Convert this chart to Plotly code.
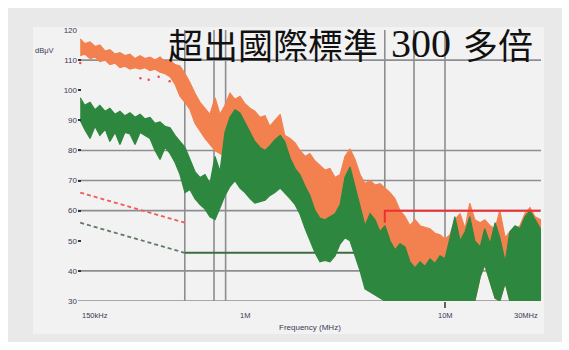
import math
import plotly.graph_objects as go

# Conducted-emission scan: frequency grid (MHz) and levels (dBuV)
freq_mhz = [0.150, 0.158, 0.168, 0.178, 0.188, 0.200, 0.211, 0.224, 0.237, 0.251,
            0.266, 0.282, 0.299, 0.316, 0.335, 0.355, 0.376, 0.398, 0.422, 0.447,
            0.473, 0.501, 0.531, 0.562, 0.596, 0.631, 0.668, 0.708, 0.750, 0.794,
            0.841, 0.891, 0.944, 1.00, 1.06, 1.12, 1.19, 1.26, 1.33, 1.41,
            1.50, 1.58, 1.68, 1.78, 1.88, 2.00, 2.11, 2.24, 2.37, 2.51,
            2.66, 2.82, 2.99, 3.16, 3.35, 3.55, 3.76, 3.98, 4.22, 4.47,
            4.73, 5.01, 5.31, 5.62, 5.96, 6.31, 6.68, 7.08, 7.50, 7.94,
            8.41, 8.91, 9.44, 10.0, 10.6, 11.2, 11.9, 12.6, 13.3, 14.1,
            15.0, 15.8, 16.8, 17.8, 18.8, 20.0, 21.1, 22.4, 23.7, 25.1,
            26.6, 28.2, 30.0]

# Peak detector trace: upper / lower envelope
peak_hi = [117, 115.5, 116, 114.5, 115, 113, 113.5, 112, 112.5, 111.5,
           112, 110.5, 111.5, 110.5, 111, 110, 111, 109.5, 110, 108.5,
           108, 105.5, 102.5, 99, 96, 94, 92, 97.5, 92, 95,
           99, 97, 98, 95.5, 94, 93, 91, 91.5, 88, 90,
           92, 85, 84, 82.5, 80, 78, 79, 76.5, 75, 73.5,
           74, 71, 72, 78, 80.5, 77, 72, 69, 70, 68.5,
           69, 67.5, 66, 64, 60, 58, 55, 57, 55, 54.5,
           54, 52.5, 52, 50.5, 52, 57, 59, 54, 62.5, 57,
           56, 57, 55, 54, 60, 51, 53, 54, 55, 59,
           61, 58, 57]
peak_lo = [111.5, 112, 110.5, 111, 109.5, 110, 108.5, 109, 107.5, 108,
           107, 107.5, 107, 107.5, 106.5, 107, 106, 105.5, 104.5, 102,
           98, 96, 93.5, 89, 86.5, 84, 82, 80, 79, 78,
           76, 76, 75, 75, 75, 74, 73.5, 73, 72.5, 72,
           72.5, 72, 71, 70, 68, 64, 62, 60, 58, 57,
           56, 56, 57, 60, 62, 60, 56, 54, 52, 50,
           48, 47, 45, 30, 30, 30, 30, 30, 30, 30,
           30, 30, 30, 30, 30, 30, 30, 30, 30, 30,
           38, 42, 36, 31, 30, 36, 30, 30, 30, 30,
           30, 30, 30]

# Average detector trace: upper / lower envelope
avg_hi = [97.5, 95, 96, 93.5, 95, 93, 94, 92, 93, 91.5,
          92.5, 91, 92, 90.5, 91, 89, 89.5, 88, 87.5, 85,
          83, 81, 77, 73, 71, 72, 69, 78, 73, 86,
          91, 93.5, 92.5, 89, 86, 83, 81, 80, 81.5, 83.5,
          85, 83, 77.5, 74, 72, 68, 65, 60, 57.5, 57,
          58, 59, 62, 71, 74.5, 68, 61, 55, 59, 57,
          53, 55, 50, 47, 49, 48, 43, 41, 43, 41.5,
          44, 42.5, 45, 44, 51, 58, 50, 53, 58, 50,
          48, 54, 49, 56, 51, 43, 53, 55, 54, 58,
          60, 57, 54]
avg_lo = [90, 87, 84, 88, 85, 87, 83, 86, 82, 86,
          85.5, 82, 86, 85, 84, 80, 77, 81, 79, 76,
          72, 66, 67, 64, 62, 60.5, 58, 57, 61, 65,
          68, 70, 67.5, 66, 64, 62.5, 63, 63.5, 65, 66,
          67.5, 66, 64, 62, 59, 54, 50, 46, 43, 43.5,
          43, 45, 49, 51, 50, 45, 40, 34, 33, 32,
          31, 30, 30, 30, 30, 30, 30, 30, 30, 30,
          30, 30, 30, 30, 30, 30, 30, 30, 30, 30,
          38, 42, 36, 31, 30, 36, 30, 30, 30, 30,
          30, 30, 30]

# Stray quasi-peak readings
stray_f = [0.150, 0.300, 0.330, 0.370, 0.420]
stray_db = [109, 104, 103.5, 104.5, 103]

# Limit lines (MHz, dBuV)
qp_slope_f = [0.15, 0.5]
qp_slope_db = [66, 56]
av_slope_f = [0.15, 0.5]
av_slope_db = [56, 46]
av_flat_f = [0.5, 5.0]
av_flat_db = [46, 46]
qp_high_f = [5.0, 5.0, 30.0]
qp_high_db = [56, 60, 60]

# Grid
h_grid_db = [110, 80, 70, 60, 40, 30]
v_grid_mhz = [0.5, 0.7, 0.8, 5.0, 7.0, 10.0]

y_tick_vals = [120, 110, 100, 90, 80, 70, 60, 50, 40, 30]
x_tick_mhz = [0.15, 1.0, 10.0, 30.0]
x_tick_text = ["150kHz", "1M", "10M", "30MHz"]
x_tick_anchor = ["left", "center", "center", "right"]

# Headline, split into runs so each run can be placed on its own
title_runs = ["超出國際標準", "300", "多倍"]

W, H = 569, 350
ML, MR, MT, MB = 78, 26, 30, 49
LOG_LO, LOG_HI = -0.835, 1.49
Y_LO, Y_HI = 30, 120
PW, PH = W - ML - MR, H - MT - MB


def px_x(px):
    return (px - ML) / PW


def px_y(py):
    return (H - MB - py) / PH


def f_paper(f):
    return (math.log10(f) - LOG_LO) / (LOG_HI - LOG_LO)


fig = go.Figure()

grid_col = "#8e8e92"
for db in h_grid_db:
    fig.add_trace(go.Scatter(x=[10 ** LOG_LO, 30.2], y=[db, db], mode="lines",
                             line=dict(color=grid_col, width=1.6),
                             hoverinfo="skip", showlegend=False))
for f in v_grid_mhz:
    fig.add_trace(go.Scatter(x=[f, f], y=[Y_LO, Y_HI + 1], mode="lines",
                             line=dict(color=grid_col, width=1.6),
                             hoverinfo="skip", showlegend=False))

fig.add_trace(go.Scatter(x=av_flat_f, y=av_flat_db, mode="lines",
                         line=dict(color="#3b6e3c", width=2),
                         showlegend=False, hoverinfo="skip"))

orange = "#f3814f"
green = "#2e873e"
fig.add_trace(go.Scatter(x=freq_mhz + freq_mhz[::-1], y=peak_hi + peak_lo[::-1],
                         mode="lines", fill="toself", fillcolor=orange,
                         line=dict(color=orange, width=1.2), showlegend=False,
                         hoverinfo="skip"))
fig.add_trace(go.Scatter(x=freq_mhz + freq_mhz[::-1], y=avg_hi + avg_lo[::-1],
                         mode="lines", fill="toself", fillcolor=green,
                         line=dict(color=green, width=1.2), showlegend=False,
                         hoverinfo="skip"))
fig.add_trace(go.Scatter(x=stray_f, y=stray_db, mode="markers",
                         marker=dict(color="#f04a5a", size=2.5),
                         showlegend=False, hoverinfo="skip"))

fig.add_trace(go.Scatter(x=qp_slope_f, y=qp_slope_db, mode="lines",
                         line=dict(color="#f05a5a", width=1.8, dash="4px,3px"),
                         showlegend=False, hoverinfo="skip"))
fig.add_trace(go.Scatter(x=av_slope_f, y=av_slope_db, mode="lines",
                         line=dict(color="#5f7a62", width=1.8, dash="4px,3px"),
                         showlegend=False, hoverinfo="skip"))
fig.add_trace(go.Scatter(x=qp_high_f, y=qp_high_db, mode="lines",
                         line=dict(color="#f02f35", width=2),
                         showlegend=False, hoverinfo="skip"))

# panel background: textured frame + plain inner area
shapes = [
    dict(type="rect", xref="paper", yref="paper", layer="below",
         x0=px_x(8), x1=px_x(562), y0=px_y(342), y1=px_y(8),
         fillcolor="#e9e9e9", line=dict(width=0)),
    dict(type="rect", xref="paper", yref="paper", layer="below",
         x0=px_x(33), x1=px_x(544), y0=px_y(334), y1=px_y(27),
         fillcolor="#f2f2f2", line=dict(width=0)),
    dict(type="line", xref="paper", yref="paper",
         x0=f_paper(10.0), x1=f_paper(10.0), y0=px_y(302), y1=px_y(308),
         line=dict(color="#333333", width=1.5)),
]

tick_font = dict(family="Liberation Sans", size=7.5, color="#3a3a55")
annotations = []
for f, t, a in zip(x_tick_mhz, x_tick_text, x_tick_anchor):
    annotations.append(dict(x=f_paper(f), y=px_y(315), xref="paper", yref="paper",
                            text=t, showarrow=False, xanchor=a, yanchor="middle",
                            font=tick_font))
annotations.append(dict(x=px_x(310), y=px_y(327), xref="paper", yref="paper",
                        text="Frequency (MHz)", showarrow=False,
                        xanchor="center", yanchor="middle",
                        font=dict(family="Liberation Sans", size=8, color="#3a3a55")))
annotations.append(dict(x=px_x(44), y=px_y(50), xref="paper", yref="paper",
                        text="dBμV", showarrow=False, xanchor="center", yanchor="middle",
                        font=tick_font))

run_left_px = [166, 389, 461]
run_fonts = [dict(family="Noto Sans CJK TC", size=35, color="#111111"),
             dict(family="Liberation Serif", size=40, color="#111111"),
             dict(family="Noto Sans CJK TC", size=35, color="#111111")]
for txt, lx, fnt in zip(title_runs, run_left_px, run_fonts):
    annotations.append(dict(x=px_x(lx), y=px_y(43), xref="paper", yref="paper",
                            text=txt, showarrow=False, xanchor="left",
                            yanchor="middle", font=fnt))

fig.update_layout(
    width=W, height=H,
    margin=dict(l=ML, r=MR, t=MT, b=MB),
    paper_bgcolor="white",
    plot_bgcolor="rgba(0,0,0,0)",
    shapes=shapes,
    annotations=annotations,
    xaxis=dict(type="log", range=[LOG_LO, LOG_HI], showgrid=False,
               zeroline=False, showline=False, showticklabels=False, ticks=""),
    yaxis=dict(range=[Y_LO, Y_HI], showgrid=False, zeroline=False, showline=False,
               tickvals=y_tick_vals, ticktext=[str(v) for v in y_tick_vals],
               ticks="inside", ticklen=3, tickwidth=2, tickcolor="#333333",
               tickfont=dict(family="Liberation Sans", size=8, color="#3a3a55")),
)

fig.write_html("out.html")
